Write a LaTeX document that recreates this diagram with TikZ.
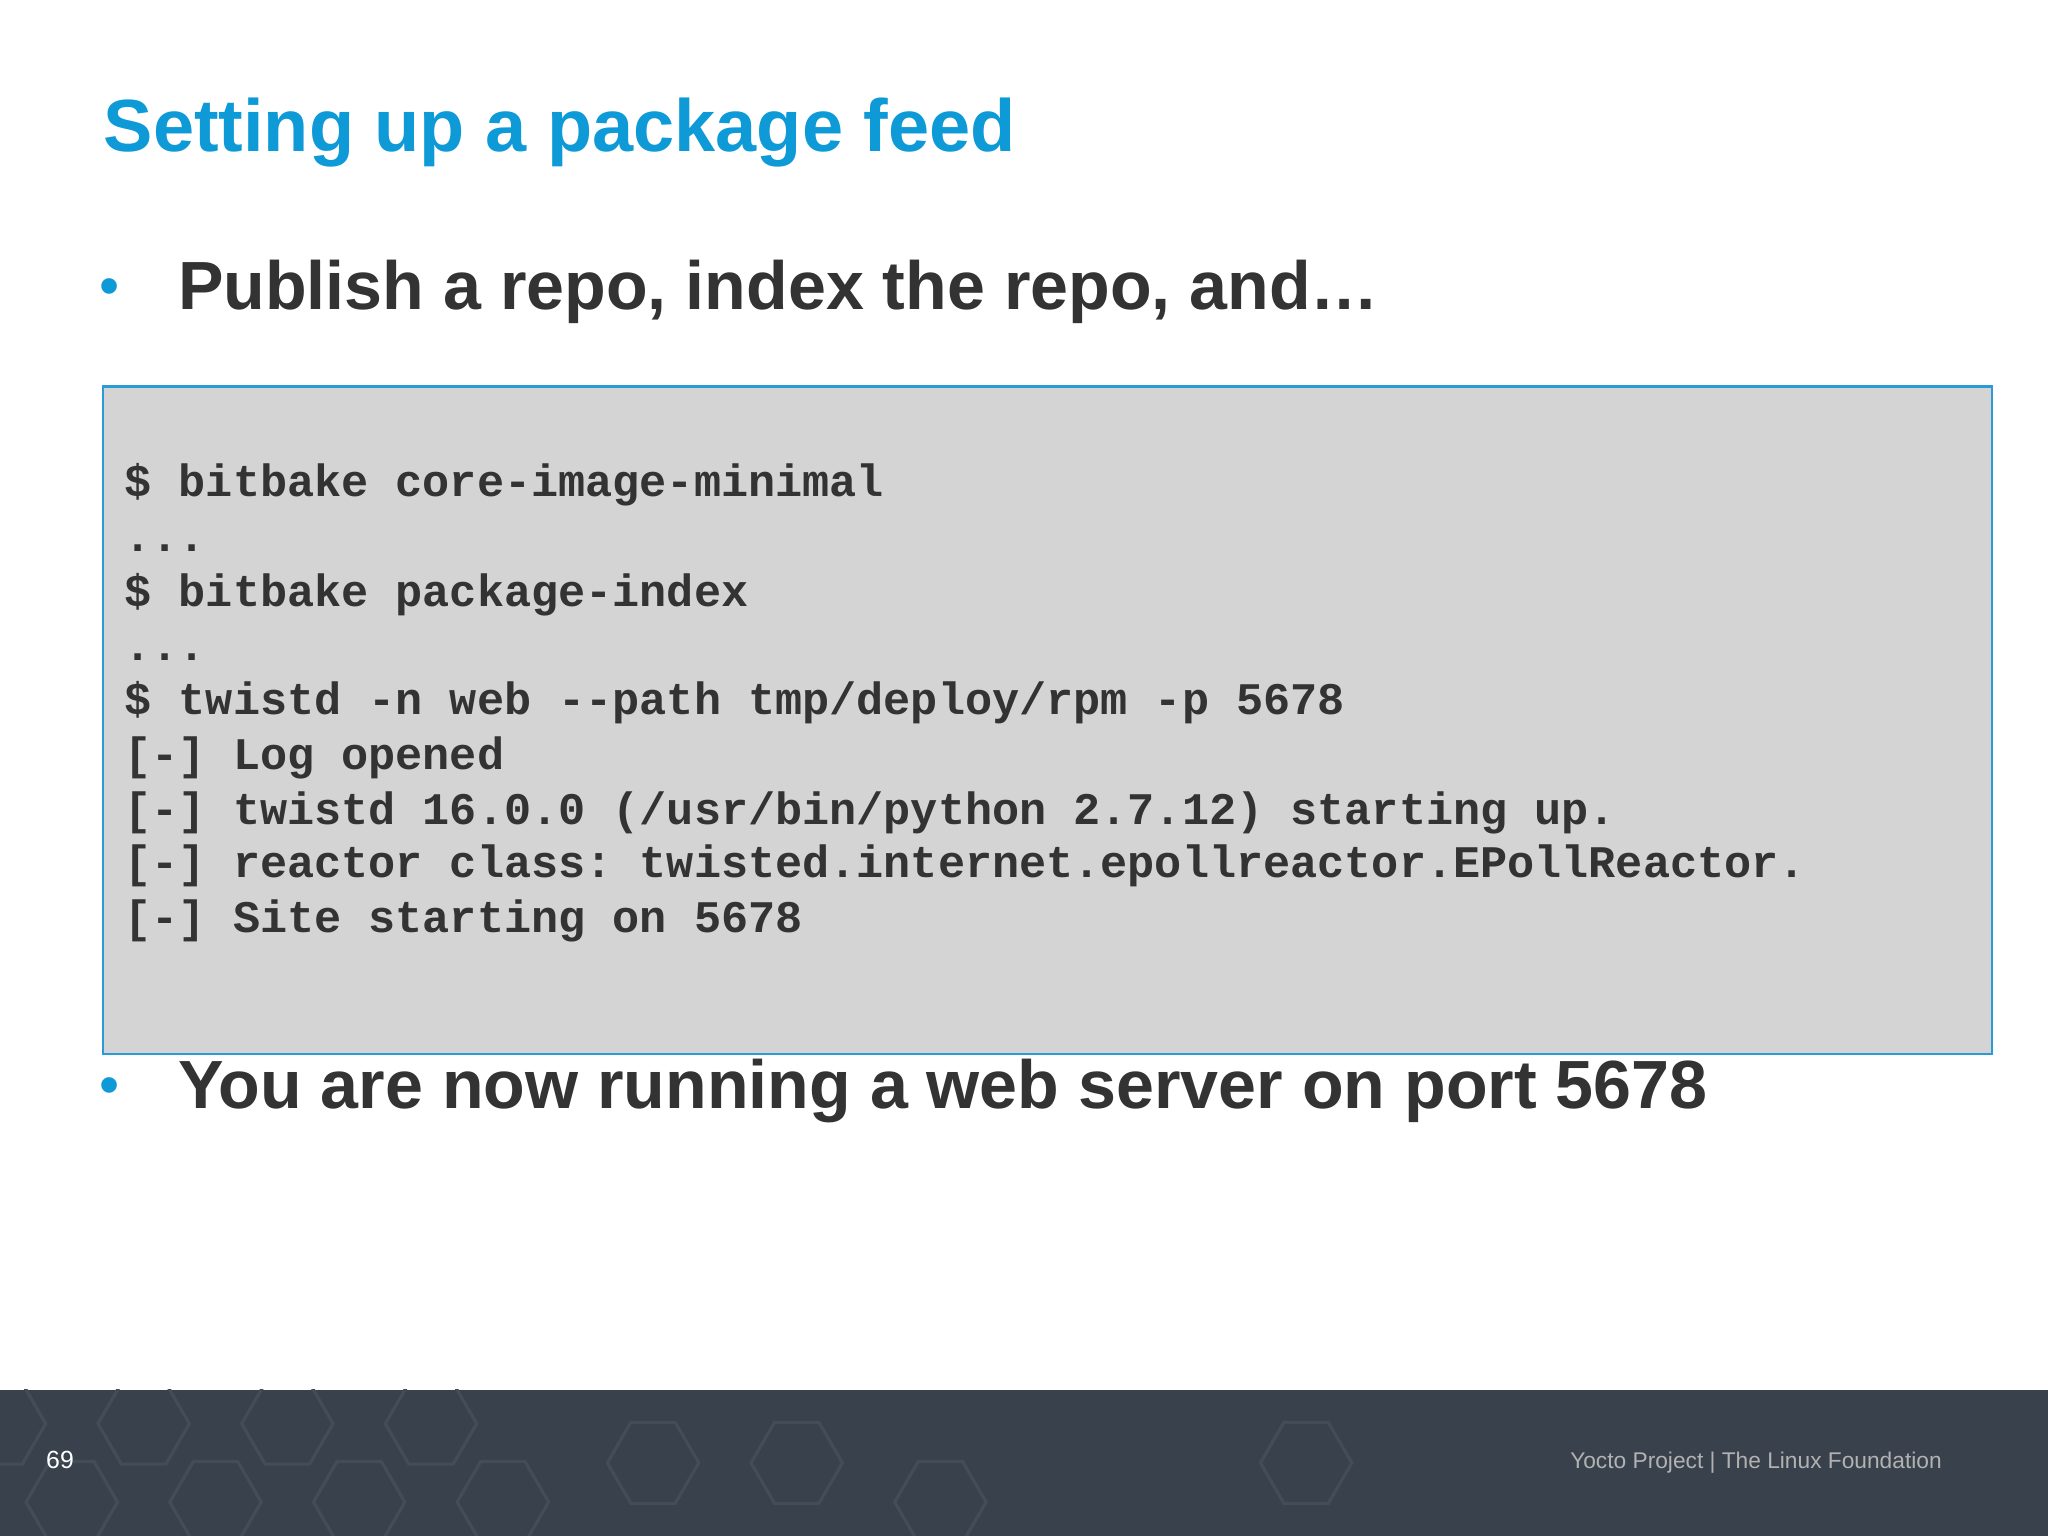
\documentclass[tikz,border=0pt]{standalone}
\usepackage{fontspec}
\setmainfont{Liberation Sans}
\setmonofont{Liberation Mono}
\definecolor{ttl}{HTML}{0E9AD7}
\definecolor{txt}{HTML}{333333}
\definecolor{boxf}{HTML}{D4D4D4}
\definecolor{boxd}{HTML}{2A9BD6}
\definecolor{foot}{HTML}{39424C}
\definecolor{hexc}{HTML}{434D58}
\begin{document}
\begin{tikzpicture}[x=0.5pt,y=-0.5pt,
  code/.style={anchor=base west,inner sep=0,font=\ttfamily\bfseries\fontsize{17.3}{20}\selectfont,text=txt},
  bul/.style={anchor=base west,inner sep=0,font=\bfseries\fontsize{26.1}{30}\selectfont,text=txt}]
\useasboundingbox (0,0) rectangle (1568,1176);
\fill[white] (0,0) rectangle (1568,1176);
\fill[foot] (0,1064) rectangle (1568,1176);
\begin{scope}
\clip (0,1064) rectangle (1568,1176);
\foreach \cx/\cy in {0/1090,110/1090,220/1090,330/1090,55/1150,165/1150,275/1150,385/1150,500/1120,610/1120,720/1150,1000/1120}{
  \draw[hexc,line width=1.2] (\cx-35,\cy) -- (\cx-17,\cy-31) -- (\cx+17,\cy-31) -- (\cx+35,\cy) -- (\cx+17,\cy+31) -- (\cx-17,\cy+31) -- cycle;}
\end{scope}
\node[anchor=base west,inner sep=0,text=white,font=\fontsize{9.5}{11}\selectfont] (pg) at (35,1124) {69};
\node[anchor=base east,inner sep=0,text=gray!60,font=\fontsize{8.7}{11}\selectfont] (ft) at (1487,1124) {Yocto Project | The Linux Foundation};
\node[anchor=base west,inner sep=0,text=ttl,font=\bfseries\fontsize{28.3}{32}\selectfont] (title) at (79,116) {Setting up a package feed};
\node[anchor=base west,inner sep=0,text=ttl,font=\fontsize{22}{24}\selectfont] (b1) at (76,234) {•};
\node[bul] (t1) at (136,237) {Publish a repo, index the repo, and…};
\node[draw=boxd,fill=boxf,line width=1,minimum width=723pt,minimum height=255.5pt,anchor=north west,inner sep=0] (box) at (78,295) {};
\node[code] (l1) at (95,380) {\$ bitbake core-image-minimal};
\node[code] (l2) at (95,422) {...};
\node[code] (l3) at (95,464) {\$ bitbake package-index};
\node[code] (l4) at (95,506) {...};
\node[code] (l5) at (95,547) {\$ twistd -n web --path tmp/deploy/rpm -p 5678};
\node[code] (l6) at (95,589) {[-] Log opened};
\node[code] (l7) at (95,631) {[-] twistd 16.0.0 (/usr/bin/python 2.7.12) starting up.};
\node[code] (l8) at (95,672) {[-] reactor class: twisted.internet.epollreactor.EPollReactor.};
\node[code] (l9) at (95,714) {[-] Site starting on 5678};
\node[anchor=base west,inner sep=0,text=ttl,font=\fontsize{22}{24}\selectfont] (b2) at (76,846) {•};
\node[bul] (t2) at (136,849) {You are now running a web server on port 5678};
\end{tikzpicture}
\end{document}
